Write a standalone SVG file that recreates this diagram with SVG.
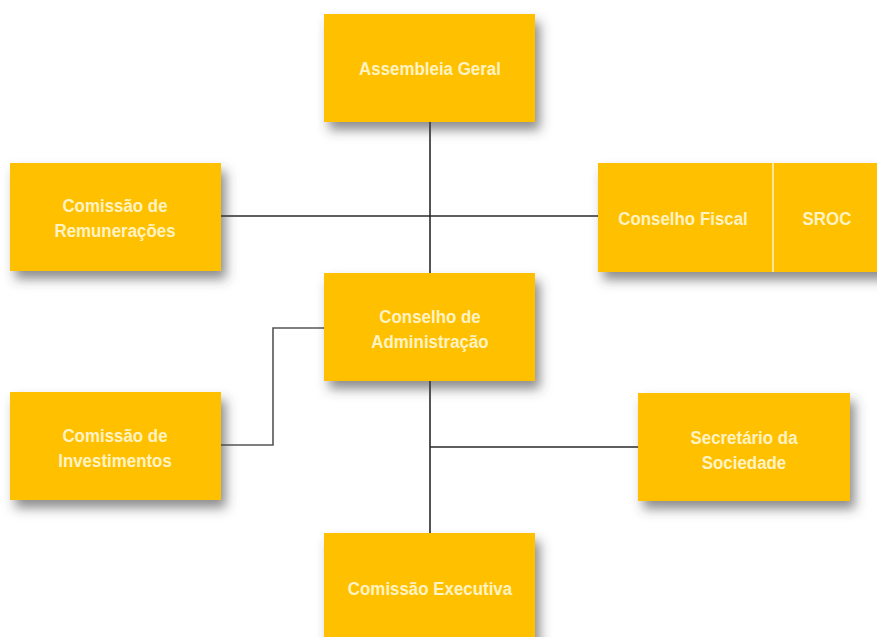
<svg xmlns="http://www.w3.org/2000/svg" width="877" height="637" viewBox="0 0 877 637">
<defs>
<filter id="sh" x="-20%" y="-20%" width="150%" height="170%">
<feDropShadow dx="5" dy="8" stdDeviation="6" flood-color="#404040" flood-opacity="0.6"/>
</filter>
</defs>
<style>
.box{fill:#FFC000;filter:url(#sh)}
.t{font-family:"Liberation Sans",Arial,sans-serif;font-weight:bold;font-size:19px;fill:#FFF3C4;text-anchor:middle}
.c{fill:none;stroke:#2a2a2a;stroke-width:1.6}
</style>
<rect width="877" height="637" fill="#ffffff"/>
<g id="connectors">
<path class="c" d="M430,122 V273"/>
<path class="c" d="M221,216 H598"/>
<path class="c" d="M221,445 H273 V328 H324" style="stroke:#555"/>
<path class="c" d="M430,381 V533"/>
<path class="c" d="M430,447 H638"/>
</g>
<g id="assembleia">
<rect class="box" x="324" y="14" width="211" height="108"/>
<text class="t" transform="translate(430 75) scale(0.89 1)">Assembleia Geral</text>
</g>
<g id="remuneracoes">
<rect class="box" x="10" y="163" width="211" height="108"/>
<text class="t" transform="translate(115 212) scale(0.89 1)">Comissão de</text>
<text class="t" transform="translate(115 237) scale(0.89 1)">Remunerações</text>
</g>
<g id="fiscal">
<rect class="box" x="598" y="163" width="290" height="109"/>
<line x1="773" y1="163" x2="773" y2="272" stroke="#FFF3C4" stroke-width="1.5"/>
<text class="t" transform="translate(683 225) scale(0.89 1)">Conselho Fiscal</text>
<text class="t" transform="translate(827 225) scale(0.89 1)">SROC</text>
</g>
<g id="administracao">
<rect class="box" x="324" y="273" width="211" height="108"/>
<text class="t" transform="translate(430 323) scale(0.89 1)">Conselho de</text>
<text class="t" transform="translate(430 348) scale(0.89 1)">Administração</text>
</g>
<g id="investimentos">
<rect class="box" x="10" y="392" width="211" height="108"/>
<text class="t" transform="translate(115 442) scale(0.89 1)">Comissão de</text>
<text class="t" transform="translate(115 467) scale(0.89 1)">Investimentos</text>
</g>
<g id="secretario">
<rect class="box" x="638" y="393" width="212" height="108"/>
<text class="t" transform="translate(744 444) scale(0.89 1)">Secretário da</text>
<text class="t" transform="translate(744 469) scale(0.89 1)">Sociedade</text>
</g>
<g id="executiva">
<rect class="box" x="324" y="533" width="211" height="115"/>
<text class="t" transform="translate(430 595) scale(0.89 1)">Comissão Executiva</text>
</g>
</svg>
